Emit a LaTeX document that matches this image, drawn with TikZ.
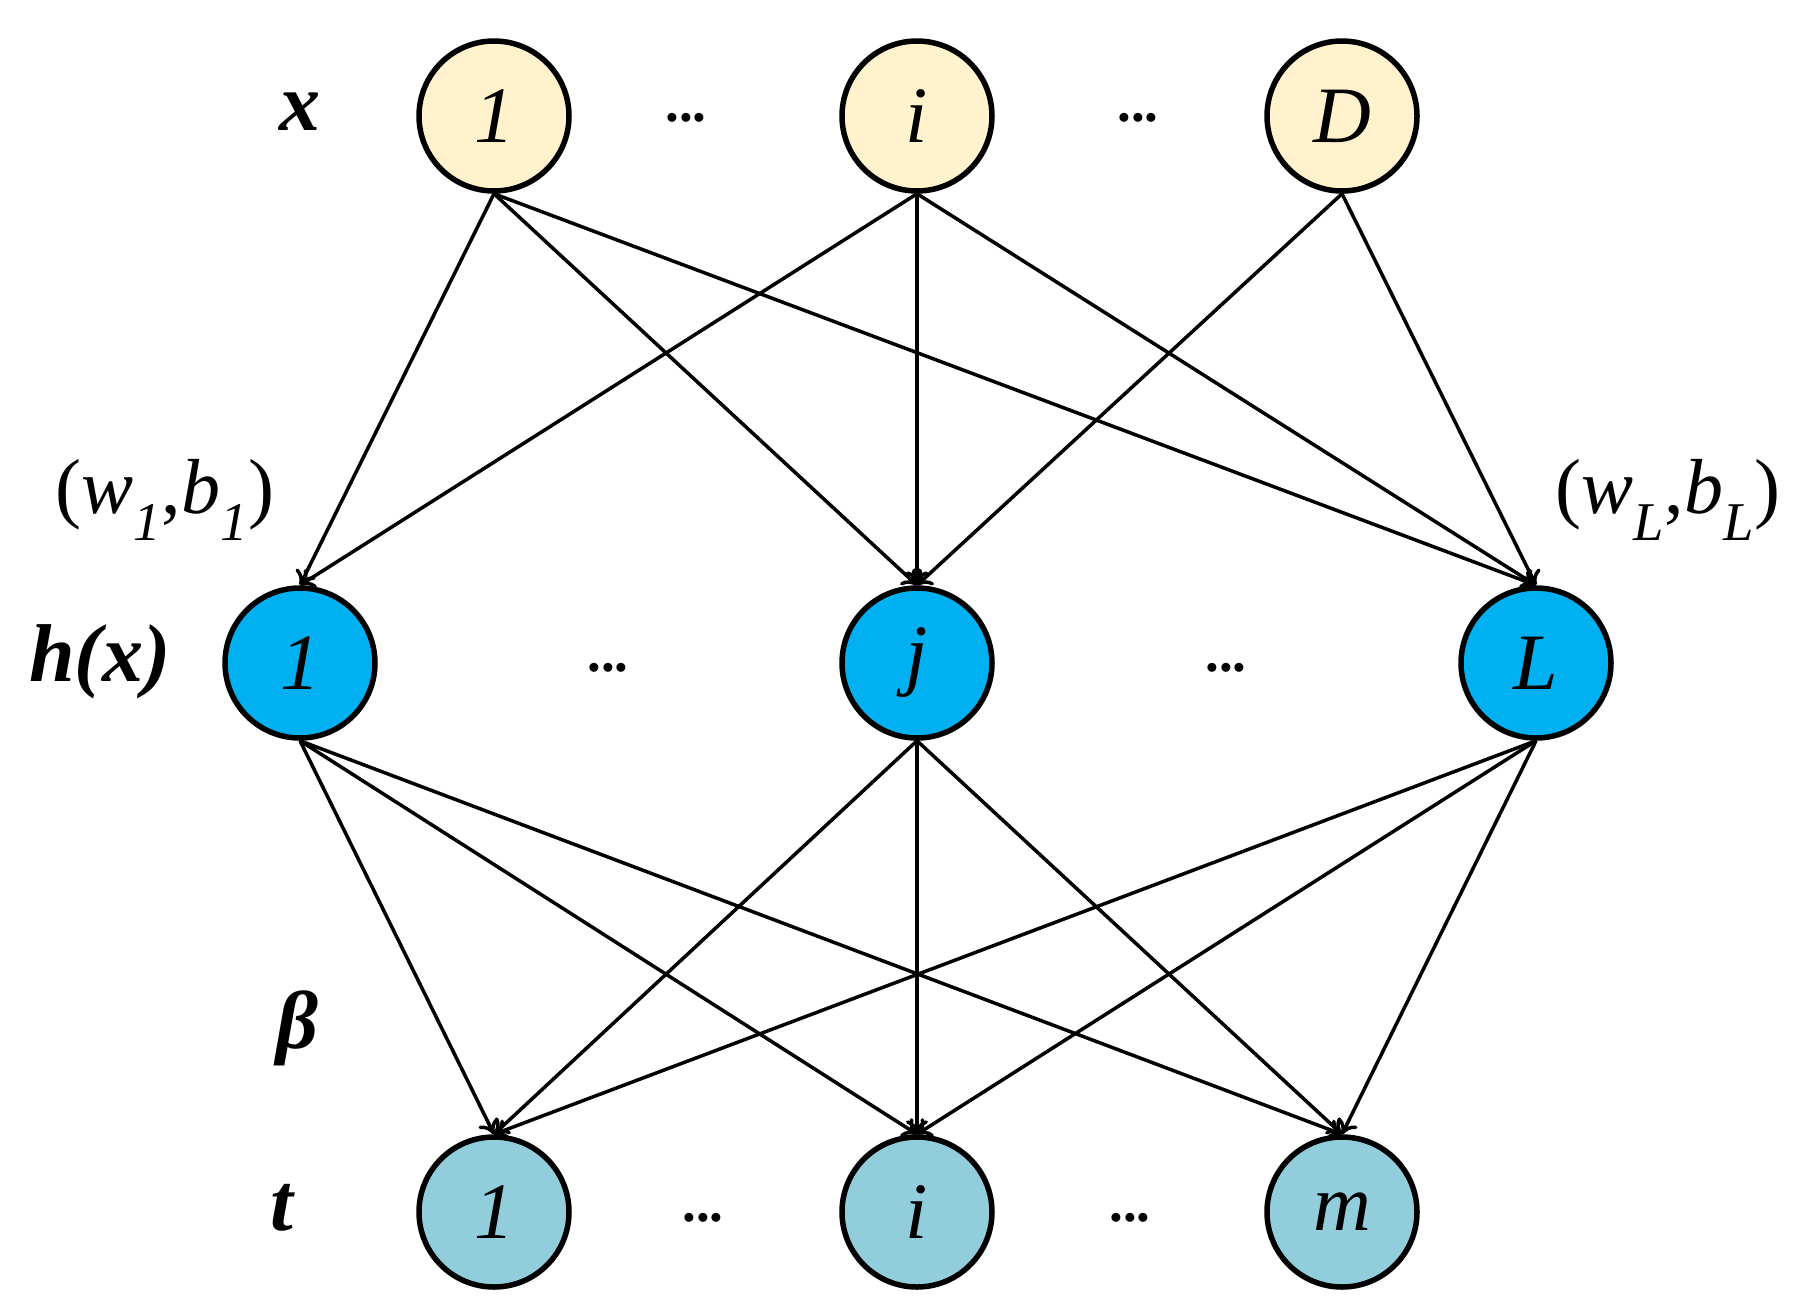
\documentclass[tikz,border=0pt]{standalone}
\usepackage{fontspec}
\setmainfont{Liberation Serif}
\usetikzlibrary{arrows.meta}
\begin{document}
\begin{tikzpicture}[x=1pt,y=-1pt,
  nd/.style={circle,draw=black,line width=5.5pt,minimum size=150pt,inner sep=0pt,font=\fontsize{80}{86}\selectfont\itshape},
  xin/.style={nd,fill={rgb,255:red,255;green,242;blue,204}},
  hid/.style={nd,fill={rgb,255:red,0;green,176;blue,240}},
  outn/.style={nd,fill={rgb,255:red,146;green,205;blue,220}},
  ar/.style={line width=3.5pt,-{To[length=14pt,width=22pt,line width=3.5pt]}},
  lab/.style={font=\fontsize{82}{86}\selectfont\bfseries\itshape},
  dots/.style={font=\fontsize{55}{60}\selectfont\bfseries},
  wb/.style={font=\fontsize{78}{84}\selectfont}]
\useasboundingbox (0,0) rectangle (1805,1310);
\node[xin] (x1) at (494,116) {1};
\node[xin] (xi) at (917,116) {i};
\node[xin] (xD) at (1342,116) {D};
\node[hid] (h1) at (300,663) {1};
\node[hid] (hj) at (917,663) {j};
\node[hid] (hL) at (1536,663) {L};
\node[outn] (t1) at (494,1212) {1};
\node[outn] (ti) at (917,1212) {i};
\node[outn] (tm) at (1342,1212) {m};
\node[lab] (lx) at (300,112) {x};
\node[lab] (lh) at (100,662) {h(x)};
\node[lab] (lb) at (297,1028) {β};
\node[lab] (lt) at (282,1208) {t};
\node[wb] (w1) at (165,500) {(\textit{w}\textsubscript{\textit{1}},\textit{b}\textsubscript{\textit{1}})};
\node[wb] (wL) at (1668,500) {(\textit{w}\textsubscript{\textit{L}},\textit{b}\textsubscript{\textit{L}})};
\node[dots] (d1) at (686,118) {...};
\node[dots] (d2) at (1138,118) {...};
\node[dots] (d3) at (608,668) {...};
\node[dots] (d4) at (1226,668) {...};
\node[dots] (d5) at (703,1218) {...};
\node[dots] (d6) at (1130,1218) {...};
\foreach \a in {x1,xi}{
  \foreach \b in {h1,hj,hL}{
    \draw[ar] (\a.south) -- (\b.north);}}
\draw[ar] (xD.south) -- (hj.north);
\draw[ar] (xD.south) -- (hL.north);
\foreach \a in {h1,hj,hL}{
  \foreach \b in {t1,ti,tm}{
    \draw[ar] (\a.south) -- (\b.north);}}
\end{tikzpicture}
\end{document}
